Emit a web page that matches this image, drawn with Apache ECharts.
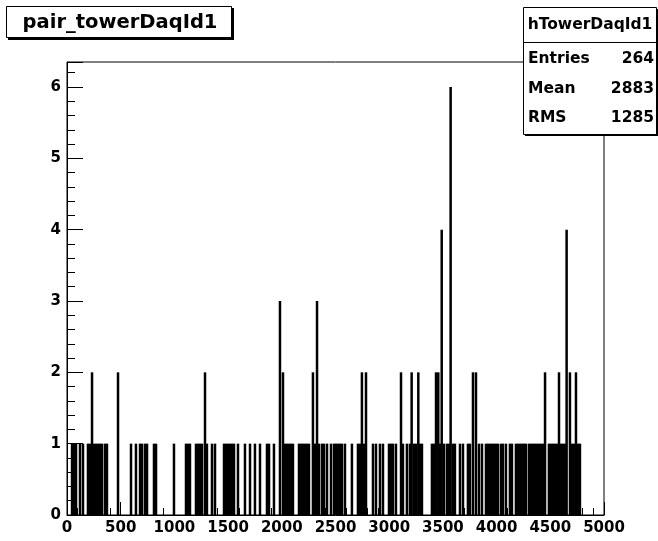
<!DOCTYPE html>
<html>
<head>
<meta charset="utf-8">
<script src="https://cdn.jsdelivr.net/npm/echarts@6/dist/echarts.min.js"></script>
<style>
  html, body { margin: 0; padding: 0; background: #fff; }
  #chart { width: 658px; height: 541px; }
</style>
</head>
<body>
<div id="chart"></div>
<script>
// histogram contents: bin position (towerDaqId) and entries
const binX = [
  47, 65, 84, 121, 149, 195, 214, 233, 251, 270, 289, 307, 326, 354, 372, 475,
  596, 642, 680, 698, 726, 745, 810, 829, 996, 1108, 1127, 1145, 1201, 1220,
  1238, 1257, 1285, 1303, 1350, 1378, 1462, 1480, 1499, 1518, 1536, 1555, 1592,
  1657, 1704, 1750, 1797, 1862, 1881, 1927, 1983, 2011, 2030, 2048, 2067, 2085,
  2104, 2160, 2178, 2197, 2216, 2234, 2253, 2290, 2309, 2328, 2346, 2374, 2393,
  2421, 2458, 2486,
  2504, 2523, 2542, 2560, 2588, 2653, 2709, 2728, 2746, 2765, 2784, 2849, 2877,
  2914, 2942, 2998, 3016, 3035, 3063, 3110, 3128, 3165, 3193, 3209, 3230, 3249,
  3271, 3286, 3305, 3398, 3417, 3436, 3457, 3473, 3489, 3510, 3538, 3556, 3572,
  3594, 3612, 3659, 3687, 3733, 3752,
  3780, 3808, 3836, 3864, 3901, 3920, 3938, 3957, 3976, 3994, 4013, 4041, 4059,
  4087, 4124, 4143, 4180, 4199, 4217, 4236, 4255, 4273, 4301, 4320, 4338, 4357,
  4376, 4394, 4413, 4431, 4451, 4487, 4506, 4525, 4543, 4562, 4581, 4599, 4618,
  4636, 4652, 4683, 4701, 4720, 4739, 4757, 4776
];
const binCount = [
  1, 1, 1, 1, 1, 1, 1, 2, 1, 1, 1, 1, 1, 1, 1, 2,
  1, 1, 1, 1, 1, 1, 1, 1, 1, 1, 1, 1, 1, 1,
  1, 1, 2, 1, 1, 1, 1, 1, 1, 1, 1, 1, 1,
  1, 1, 1, 1, 1, 1, 1, 3, 2, 1, 1, 1, 1,
  1, 1, 1, 1, 1, 1, 1, 2, 1, 3, 1, 1, 1,
  1, 1, 1,
  1, 1, 1, 1, 1, 1, 1, 1, 2, 1, 2, 1, 1,
  1, 1, 1, 1, 1, 1, 2, 1, 1, 1, 2, 1, 1,
  2, 1, 1, 1, 1, 2, 2, 1, 4, 1, 1, 1, 6,
  1, 1, 1, 1, 1, 1,
  2, 2, 1, 1, 1, 1, 1, 1, 1, 1, 1, 1, 1,
  1, 1, 1, 1, 1, 1, 1, 1, 1, 1, 1, 1, 1,
  1, 1, 1, 1, 2, 1, 1, 1, 1, 1, 2, 1, 1,
  1, 4, 2, 1, 1, 2, 1, 1
];

const histTitle = 'pair_towerDaqId1';
const statsHeader = 'hTowerDaqId1';
const statLabels = ['Entries', 'Mean', 'RMS'];
const statValues = ['264', '2883', '1285'];
const statRowY = [59, 89, 118];

const FONT = '"DejaVu Sans", sans-serif';

const chart = echarts.init(document.getElementById('chart'), null, { renderer: 'canvas' });

const statsText = [];
statLabels.forEach((label, i) => {
  statsText.push({
    type: 'text', x: 528, y: statRowY[i], z: 102,
    style: { text: label, fontFamily: FONT, fontWeight: 'bold', fontSize: 15.5, fill: '#000', align: 'left', verticalAlign: 'middle' }
  });
  statsText.push({
    type: 'text', x: 654, y: statRowY[i], z: 102,
    style: { text: statValues[i], fontFamily: FONT, fontWeight: 'bold', fontSize: 15.5, fill: '#000', align: 'right', verticalAlign: 'middle' }
  });
});

const option = {
  animation: false,
  backgroundColor: '#fff',
  grid: {
    left: 67, right: 54, top: 62, bottom: 26,
    show: true, borderColor: '#000', borderWidth: 1, backgroundColor: 'transparent'
  },
  xAxis: {
    type: 'value',
    min: 0, max: 5000, interval: 500,
    axisLine: { show: true, lineStyle: { color: '#000', width: 1 } },
    axisTick: { show: true, inside: true, length: 13, lineStyle: { color: '#000' } },
    minorTick: { show: true, splitNumber: 5, length: 7, lineStyle: { color: '#000' } },
    splitLine: { show: false },
    axisLabel: {
      color: '#000', fontFamily: FONT, fontWeight: 'bold', fontSize: 15, margin: 6,
      formatter: (v) => String(v)
    }
  },
  yAxis: [
    {
      type: 'value',
      min: 0, max: 6.35, interval: 1,
      axisLine: { show: true, lineStyle: { color: '#000', width: 1 } },
      axisTick: { show: true, inside: true, length: 16, lineStyle: { color: '#000' } },
      splitLine: { show: false },
      axisLabel: {
        color: '#000', fontFamily: FONT, fontWeight: 'bold', fontSize: 15, margin: 6,
        formatter: (v) => (Number.isInteger(v) ? String(v) : '')
      }
    },
    {
      // minor ticks every 0.2
      type: 'value', position: 'left',
      min: 0, max: 6.35, interval: 0.2,
      axisLine: { show: false },
      axisTick: { show: true, inside: true, length: 8, lineStyle: { color: '#000' } },
      splitLine: { show: false },
      axisLabel: { show: false }
    }
  ],
  series: [
    {
      type: 'bar',
      xAxisIndex: 0,
      yAxisIndex: 0,
      barWidth: 2.5,
      itemStyle: { color: '#000' },
      data: binX.map((x, i) => [x, binCount[i]])
    }
  ],
  graphic: [
    // title box
    { type: 'rect', z: 100, shape: { x: 8, y: 8, width: 226, height: 32 }, style: { fill: '#000' } },
    { type: 'rect', z: 101, shape: { x: 6.5, y: 6.5, width: 225, height: 31 }, style: { fill: '#fff', stroke: '#000', lineWidth: 1 } },
    {
      type: 'text', x: 120, y: 23, z: 102,
      style: { text: histTitle, fontFamily: FONT, fontWeight: 'bold', fontSize: 19.5, fill: '#000', align: 'center', verticalAlign: 'middle' }
    },
    // stats box
    { type: 'rect', z: 100, shape: { x: 525, y: 9, width: 134, height: 127 }, style: { fill: '#000' } },
    { type: 'rect', z: 101, shape: { x: 523.5, y: 7.5, width: 133, height: 127 }, style: { fill: '#fff', stroke: '#000', lineWidth: 1 } },
    { type: 'line', z: 102, shape: { x1: 523.5, y1: 42.5, x2: 656.5, y2: 42.5 }, style: { stroke: '#000', lineWidth: 1 } },
    {
      type: 'text', x: 590, y: 25, z: 102,
      style: { text: statsHeader, fontFamily: FONT, fontWeight: 'bold', fontSize: 15.5, fill: '#000', align: 'center', verticalAlign: 'middle' }
    },
    ...statsText
  ]
};

chart.setOption(option);
</script>
</body>
</html>
